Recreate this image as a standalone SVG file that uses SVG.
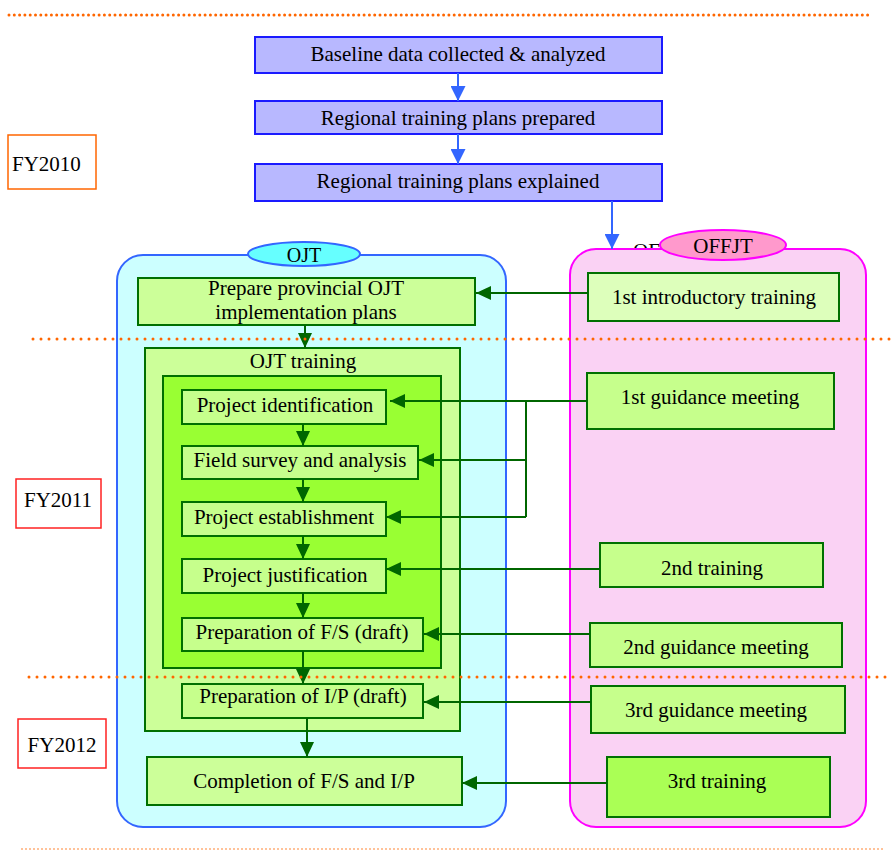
<svg xmlns="http://www.w3.org/2000/svg" width="891" height="850" viewBox="0 0 891 850">
<style>
text{font-family:"Liberation Serif","Times New Roman",serif;font-size:21px;fill:#000;text-anchor:middle}
.blue{fill:#b8b8ff;stroke:#1a1aff;stroke-width:2}
.gbox{fill:#c6ff8c;stroke:#007000;stroke-width:2}
.lbox{fill:#ccff99;stroke:#007000;stroke-width:2}
.gc{fill:none;stroke:#006600;stroke-width:2}
.bc{fill:none;stroke:#3366ff;stroke-width:2}
.dot{fill:none;stroke:#ff6600;stroke-linecap:round}
.fy{fill:#fff;stroke-width:1.5}
</style>
<defs>
<marker id="ag" markerUnits="userSpaceOnUse" markerWidth="15" markerHeight="14" refX="15" refY="7" orient="auto"><path d="M0,0 L15,7 L0,14 z" fill="#006600"/></marker>
<marker id="ab" markerUnits="userSpaceOnUse" markerWidth="15" markerHeight="15" refX="15" refY="7.5" orient="auto"><path d="M0,0 L15,7.5 L0,15 z" fill="#3366ff"/></marker>
</defs>

<g id="fy2010"><rect class="fy" x="8" y="135" width="88" height="54" stroke="#ff6600" stroke-width="2"/><text x="12" y="171" style="text-anchor:start">FY2010</text></g>
<g id="fy2011"><rect class="fy" x="16" y="479" width="85" height="49" stroke="#ff2222"/><text x="58" y="507">FY2011</text></g>
<g id="fy2012"><rect class="fy" x="18" y="719" width="88" height="49" stroke="#ff2222"/><text x="62" y="752">FY2012</text></g>

<g id="baseline"><rect class="blue" x="255" y="37" width="407" height="36"/><text x="458" y="61">Baseline data collected &amp; analyzed</text></g>
<g id="prepared"><rect class="blue" x="255" y="101" width="407" height="33"/><text x="458" y="125">Regional training plans prepared</text></g>
<g id="explained"><rect class="blue" x="255" y="164" width="407" height="37"/><text x="458" y="188">Regional training plans explained</text></g>

<g id="ojt-lane"><rect x="117" y="255" width="389" height="572" rx="26" fill="#ccffff" stroke="#3366ff" stroke-width="2"/><ellipse cx="304" cy="254" rx="56" ry="12" fill="#66ffff" stroke="#3366ff" stroke-width="2"/><text x="304" y="262" style="font-size:20px">OJT</text></g>

<g id="offjt-lane"><text x="633" y="258" style="text-anchor:start">OF</text><rect x="570" y="249" width="296" height="578" rx="26" fill="#fad2f4" stroke="#ff00ff" stroke-width="2"/><ellipse cx="723" cy="245" rx="63" ry="15" fill="#ff99cc" stroke="#ff00ff" stroke-width="2"/><text x="723" y="253">OFFJT</text></g>

<g id="prepare-ojt"><rect class="lbox" x="138" y="278" width="337" height="47"/><text x="306" y="295">Prepare provincial OJT</text><text x="306" y="319">implementation plans</text></g>
<g id="ojt-training"><rect class="lbox" x="145" y="348" width="315" height="383"/><text x="303" y="368">OJT training</text></g>
<g id="ojt-inner"><rect x="163" y="376" width="278" height="292" fill="#99ff33" stroke="#007000" stroke-width="2"/></g>
<g id="proj-ident"><rect class="gbox" x="182" y="390" width="204" height="34"/><text x="285" y="412">Project identification</text></g>
<g id="field-survey"><rect class="gbox" x="182" y="446" width="236" height="33"/><text x="300" y="467">Field survey and analysis</text></g>
<g id="proj-estab"><rect class="gbox" x="182" y="502" width="204" height="34"/><text x="284" y="524">Project establishment</text></g>
<g id="proj-just"><rect class="gbox" x="182" y="559" width="204" height="34"/><text x="285" y="582">Project justification</text></g>
<g id="prep-fs"><rect class="gbox" x="182" y="618" width="241" height="33"/><text x="302" y="639">Preparation of F/S (draft)</text></g>
<g id="prep-ip"><rect class="gbox" x="182" y="684" width="241" height="34"/><text x="303" y="703">Preparation of I/P (draft)</text></g>
<g id="completion"><rect class="lbox" x="147" y="757" width="315" height="48"/><text x="304" y="788">Completion of F/S and I/P</text></g>

<g id="intro1"><rect x="588" y="273" width="251" height="48" fill="#ddffbb" stroke="#007000" stroke-width="2"/><text x="714" y="304">1st introductory training</text></g>
<g id="guid1"><rect class="gbox" x="587" y="373" width="247" height="56"/><text x="710" y="404">1st guidance meeting</text></g>
<g id="train2"><rect class="gbox" x="600" y="543" width="223" height="44"/><text x="712" y="575">2nd training</text></g>
<g id="guid2"><rect class="gbox" x="590" y="623" width="252" height="44"/><text x="716" y="654">2nd guidance meeting</text></g>
<g id="guid3"><rect class="gbox" x="591" y="686" width="254" height="47"/><text x="716" y="717">3rd guidance meeting</text></g>
<g id="train3"><rect x="607" y="757" width="223" height="60" fill="#aaff55" stroke="#007000" stroke-width="2"/><text x="717" y="788">3rd training</text></g>

<g id="connectors">
<path class="bc" d="M458,73 V101" marker-end="url(#ab)"/>
<path class="bc" d="M458,134 V164" marker-end="url(#ab)"/>
<path class="bc" d="M612,201 V249" marker-end="url(#ab)"/>
<path class="gc" d="M588,293 H476" marker-end="url(#ag)"/>
<path class="gc" d="M587,401 H390" marker-end="url(#ag)"/>
<path class="gc" d="M526,401 V517"/>
<path class="gc" d="M526,460 H419" marker-end="url(#ag)"/>
<path class="gc" d="M526,517 H386" marker-end="url(#ag)"/>
<path class="gc" d="M600,569 H386" marker-end="url(#ag)"/>
<path class="gc" d="M590,634 H424" marker-end="url(#ag)"/>
<path class="gc" d="M591,702 H424" marker-end="url(#ag)"/>
<path class="gc" d="M607,783 H462" marker-end="url(#ag)"/>
<path class="gc" d="M305,325 V348" marker-end="url(#ag)"/>
<path class="gc" d="M303,424 V446" marker-end="url(#ag)"/>
<path class="gc" d="M303,479 V502" marker-end="url(#ag)"/>
<path class="gc" d="M303,536 V559" marker-end="url(#ag)"/>
<path class="gc" d="M303,593 V618" marker-end="url(#ag)"/>
<path class="gc" d="M303,651 V684" marker-end="url(#ag)"/>
<path class="gc" d="M307,718 V757" marker-end="url(#ag)"/>
</g>

<g id="dividers">
<path class="dot" d="M9,15 H868" stroke-width="3" stroke-dasharray="0 5.3"/>
<path class="dot" d="M33,339 H891" stroke-width="3" stroke-dasharray="0 8"/>
<path class="dot" d="M29,677 H891" stroke-width="3" stroke-dasharray="0 8"/>
<path class="dot" d="M22,849 H884" stroke-width="1.5" stroke-dasharray="0 4"/>
</g>
</svg>
